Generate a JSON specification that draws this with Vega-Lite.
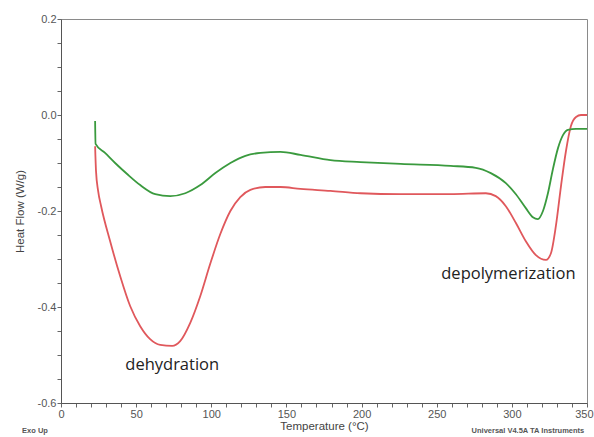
{
  "$schema": "https://vega.github.io/schema/vega-lite/v6.json",
  "width": 526,
  "height": 384,
  "autosize": {"type": "none"},
  "padding": {"left": 61, "top": 19, "right": 7, "bottom": 34},
  "background": "white",
  "config": {
    "view": {"stroke": "#8a8a8a", "strokeWidth": 1},
    "font": "Liberation Sans"
  },
  "datasets": {
    "curves": [
      {"T": 22.7, "v": -0.065, "s": "red"},
      {"T": 23.3, "v": -0.117, "s": "red"},
      {"T": 24.7, "v": -0.158, "s": "red"},
      {"T": 26.7, "v": -0.19, "s": "red"},
      {"T": 32.7, "v": -0.263, "s": "red"},
      {"T": 39.3, "v": -0.335, "s": "red"},
      {"T": 46, "v": -0.398, "s": "red"},
      {"T": 52.7, "v": -0.44, "s": "red"},
      {"T": 59.3, "v": -0.467, "s": "red"},
      {"T": 66, "v": -0.479, "s": "red"},
      {"T": 74, "v": -0.481, "s": "red"},
      {"T": 79.3, "v": -0.471, "s": "red"},
      {"T": 86, "v": -0.433, "s": "red"},
      {"T": 92.7, "v": -0.377, "s": "red"},
      {"T": 99.3, "v": -0.31, "s": "red"},
      {"T": 106, "v": -0.248, "s": "red"},
      {"T": 112.7, "v": -0.2, "s": "red"},
      {"T": 119.3, "v": -0.171, "s": "red"},
      {"T": 126, "v": -0.156, "s": "red"},
      {"T": 136, "v": -0.15, "s": "red"},
      {"T": 146, "v": -0.15, "s": "red"},
      {"T": 159.3, "v": -0.154, "s": "red"},
      {"T": 179.3, "v": -0.158, "s": "red"},
      {"T": 199.3, "v": -0.163, "s": "red"},
      {"T": 226, "v": -0.165, "s": "red"},
      {"T": 259.3, "v": -0.165, "s": "red"},
      {"T": 282.7, "v": -0.163, "s": "red"},
      {"T": 289.3, "v": -0.169, "s": "red"},
      {"T": 296, "v": -0.19, "s": "red"},
      {"T": 302.7, "v": -0.225, "s": "red"},
      {"T": 309.3, "v": -0.263, "s": "red"},
      {"T": 316, "v": -0.292, "s": "red"},
      {"T": 322.7, "v": -0.302, "s": "red"},
      {"T": 326, "v": -0.288, "s": "red"},
      {"T": 329.3, "v": -0.231, "s": "red"},
      {"T": 332.7, "v": -0.148, "s": "red"},
      {"T": 336, "v": -0.075, "s": "red"},
      {"T": 339.3, "v": -0.023, "s": "red"},
      {"T": 342.7, "v": -0.004, "s": "red"},
      {"T": 346, "v": 0.0, "s": "red"},
      {"T": 350, "v": 0.0, "s": "red"},
      {"T": 22.7, "v": -0.0125, "s": "green"},
      {"T": 23.0, "v": -0.06, "s": "green"},
      {"T": 29.3, "v": -0.079, "s": "green"},
      {"T": 36, "v": -0.1, "s": "green"},
      {"T": 44, "v": -0.123, "s": "green"},
      {"T": 52.7, "v": -0.146, "s": "green"},
      {"T": 62.7, "v": -0.165, "s": "green"},
      {"T": 72.7, "v": -0.169, "s": "green"},
      {"T": 82.7, "v": -0.163, "s": "green"},
      {"T": 92.7, "v": -0.146, "s": "green"},
      {"T": 102.7, "v": -0.121, "s": "green"},
      {"T": 112.7, "v": -0.1, "s": "green"},
      {"T": 122.7, "v": -0.085, "s": "green"},
      {"T": 132.7, "v": -0.079, "s": "green"},
      {"T": 146, "v": -0.077, "s": "green"},
      {"T": 159.3, "v": -0.083, "s": "green"},
      {"T": 179.3, "v": -0.094, "s": "green"},
      {"T": 199.3, "v": -0.098, "s": "green"},
      {"T": 226, "v": -0.102, "s": "green"},
      {"T": 259.3, "v": -0.106, "s": "green"},
      {"T": 276, "v": -0.11, "s": "green"},
      {"T": 286, "v": -0.121, "s": "green"},
      {"T": 296, "v": -0.142, "s": "green"},
      {"T": 302.7, "v": -0.165, "s": "green"},
      {"T": 309.3, "v": -0.194, "s": "green"},
      {"T": 314, "v": -0.213, "s": "green"},
      {"T": 317.3, "v": -0.217, "s": "green"},
      {"T": 320.7, "v": -0.2, "s": "green"},
      {"T": 324, "v": -0.163, "s": "green"},
      {"T": 327.3, "v": -0.113, "s": "green"},
      {"T": 330.7, "v": -0.069, "s": "green"},
      {"T": 334, "v": -0.042, "s": "green"},
      {"T": 337.3, "v": -0.031, "s": "green"},
      {"T": 342.7, "v": -0.029, "s": "green"},
      {"T": 350, "v": -0.029, "s": "green"}
    ],
    "notes": [
      {"T": 74, "v": -0.521, "label": "dehydration"},
      {"T": 297.7, "v": -0.331, "label": "depolymerization"}
    ],
    "small": [
      {"T": -17.3, "v": -0.658, "label": "Exo Up", "a": "center"},
      {"T": 310.7, "v": -0.658, "label": "Universal V4.5A TA Instruments", "a": "left"}
    ]
  },
  "layer": [
    {
      "data": {"name": "curves"},
      "mark": {"type": "line", "strokeWidth": 1.8, "clip": true, "interpolate": "monotone"},
      "encoding": {
        "x": {
          "field": "T", "type": "quantitative",
          "scale": {"domain": [0, 350], "nice": false, "zero": false},
          "axis": {
            "title": "Temperature (°C)",
            "values": [0,10,20,30,40,50,60,70,80,90,100,110,120,130,140,150,160,170,180,190,200,210,220,230,240,250,260,270,280,290,300,310,320,330,340,350],
            "tickCount": 200,
            "labelExpr": "datum.value % 50 === 0 ? datum.value + '' : ''",
            "labelOverlap": false,
            "labelFlush": false,
            "labelAlign": {"condition": {"test": "datum.value === 350", "value": "right"}, "value": "center"},
            "labelOffset": {"condition": {"test": "datum.value === 350", "value": 6}, "value": 0},
            "grid": false,
            "domainColor": "#555", "tickColor": "#666", "tickSize": 4,
            "labelColor": "#555", "labelFontSize": 11, "labelPadding": 1,
            "titleColor": "#444", "titleFontSize": 11.5, "titleFontWeight": "normal",
            "titlePadding": 1
          }
        },
        "y": {
          "field": "v", "type": "quantitative",
          "scale": {"domain": [-0.6, 0.2], "nice": false, "zero": false},
          "axis": {
            "title": "Heat Flow (W/g)",
            "values": [-0.6,-0.55,-0.5,-0.45,-0.4,-0.35,-0.3,-0.25,-0.2,-0.15,-0.1,-0.05,0,0.05,0.1,0.15,0.2],
            "tickCount": 200,
            "labelExpr": "abs(datum.value*5 - round(datum.value*5)) < 0.001 ? replace(format(datum.value, '.1f'), '−', '-') : ''",
            "labelOverlap": false,
            "labelFlush": false,
            "grid": false,
            "domainColor": "#555", "tickColor": "#666", "tickSize": 4,
            "labelColor": "#555", "labelFontSize": 11, "labelPadding": 1,
            "titleColor": "#444", "titleFontSize": 11.5, "titleFontWeight": "normal",
            "titlePadding": 12
          }
        },
        "color": {
          "field": "s", "type": "nominal",
          "scale": {"domain": ["red", "green"], "range": ["#e0585c", "#3a9a3e"]},
          "legend": null
        },
        "order": {"field": "T", "type": "quantitative"}
      }
    },
    {
      "data": {"name": "notes"},
      "mark": {"type": "text", "font": "Open Sans", "fontSize": 16.5, "color": "#222", "align": "center", "baseline": "middle"},
      "encoding": {
        "x": {"field": "T", "type": "quantitative"},
        "y": {"field": "v", "type": "quantitative"},
        "text": {"field": "label"}
      }
    },
    {
      "data": {"name": "small"},
      "mark": {"type": "text", "fontSize": 7.5, "fontWeight": "bold", "color": "#555", "baseline": "middle", "clip": false},
      "encoding": {
        "x": {"field": "T", "type": "quantitative"},
        "y": {"field": "v", "type": "quantitative"},
        "text": {"field": "label"},
        "align": {"field": "a", "type": "nominal", "scale": null}
      }
    }
  ]
}
